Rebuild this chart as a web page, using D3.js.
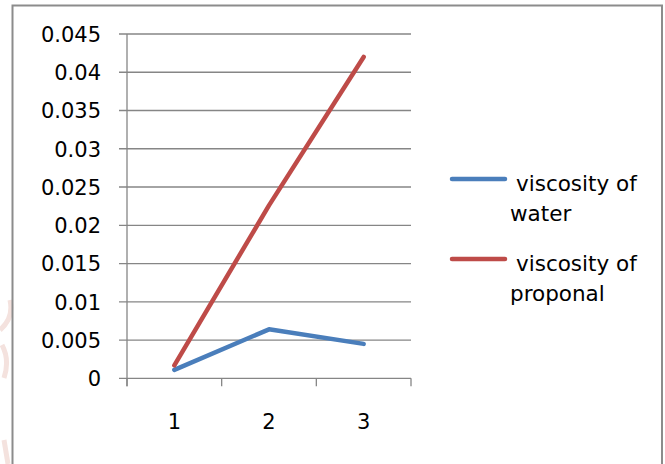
<!DOCTYPE html>
<html>
<head>
<meta charset="utf-8">
<script src="https://cdn.jsdelivr.net/npm/d3@7/dist/d3.min.js"></script>
<style>
  html, body { margin: 0; padding: 0; background: #fff; }
  svg { display: block; }
  text { font-family: "DejaVu Sans", sans-serif; fill: #000; }
</style>
</head>
<body>
<svg id="chart" width="665" height="464"></svg>
<script>
const categories = ["1", "2", "3"];
const waterValues = [0.0011, 0.0064, 0.0045];
const proponalValues = [0.0017, 0.0226, 0.042];
const yTickValues = [0, 0.005, 0.01, 0.015, 0.02, 0.025, 0.03, 0.035, 0.04, 0.045];
const yTickLabels = ["0", "0.005", "0.01", "0.015", "0.02", "0.025", "0.03", "0.035", "0.04", "0.045"];
const seriesNames = [["viscosity of", "water"], ["viscosity of", "proponal"]];
const seriesColors = ["#4a7ebb", "#be4b48"];

(function () {
const svg = d3.select("#chart");
const gridColor = "#868686";

// faint watermark traces at left edge
svg.append("path").attr("d", "M0,330 Q14,318 10,300 M2,345 Q10,360 4,378")
  .attr("fill", "none").attr("stroke", "#f4e2de").attr("stroke-width", 5);
svg.append("path").attr("d", "M4,440 L8,464")
  .attr("fill", "none").attr("stroke", "#f4e2de").attr("stroke-width", 5);

// chart border
svg.append("rect")
  .attr("x", 12.5).attr("y", 5.5).attr("width", 649.5).attr("height", 470)
  .attr("fill", "none").attr("stroke", "#8c8c8c").attr("stroke-width", 2);

const plotLeft = 127, plotRight = 411, plotTop = 34, plotBottom = 378.3;
const y = d3.scaleLinear().domain([0, 0.045]).range([plotBottom, plotTop]);
const x = d3.scalePoint().domain(categories).range([plotLeft, plotRight]).padding(0.5);
const step = x.step();

// gridlines + y ticks
svg.append("g").selectAll("line").data(yTickValues).join("line")
  .attr("x1", plotLeft - 8).attr("x2", plotRight)
  .attr("y1", d => y(d)).attr("y2", d => y(d))
  .attr("stroke", gridColor).attr("stroke-width", 1.3);

// y axis line
svg.append("line").attr("x1", plotLeft).attr("x2", plotLeft)
  .attr("y1", plotTop).attr("y2", plotBottom + 8)
  .attr("stroke", gridColor).attr("stroke-width", 1.3);

// x tick marks (category boundaries)
const xBoundaries = d3.range(categories.length + 1).map(i => plotLeft + i * step);
svg.append("g").selectAll("line").data(xBoundaries).join("line")
  .attr("x1", d => d).attr("x2", d => d)
  .attr("y1", plotBottom).attr("y2", plotBottom + 8)
  .attr("stroke", gridColor).attr("stroke-width", 1.3);

// y labels
svg.append("g").selectAll("text").data(yTickValues).join("text")
  .attr("x", 101).attr("y", d => y(d) + 7.8)
  .attr("text-anchor", "end").attr("font-size", 21)
  .text((d, i) => yTickLabels[i]);

// x labels
svg.append("g").selectAll("text").data(categories).join("text")
  .attr("x", d => x(d)).attr("y", 428.5)
  .attr("text-anchor", "middle").attr("font-size", 21)
  .text(d => d);

// series lines
const line = d3.line().x((d, i) => x(categories[i])).y(d => y(d));
[waterValues, proponalValues].forEach((vals, k) => {
  svg.append("path").datum(vals)
    .attr("d", line)
    .attr("fill", "none")
    .attr("stroke", seriesColors[k])
    .attr("stroke-width", 4.5)
    .attr("stroke-linejoin", "round")
    .attr("stroke-linecap", "round");
});

// legend
const legendY = [179, 259];
seriesNames.forEach((lines, k) => {
  svg.append("line")
    .attr("x1", 452).attr("x2", 505)
    .attr("y1", legendY[k]).attr("y2", legendY[k])
    .attr("stroke", seriesColors[k]).attr("stroke-width", 4.5)
    .attr("stroke-linecap", "round");
  svg.append("text").attr("x", 516).attr("y", legendY[k] + 12)
    .attr("font-size", 21.5).text(lines[0]);
  svg.append("text").attr("x", 510).attr("y", legendY[k] + 42)
    .attr("font-size", 21.5).text(lines[1]);
});
})();
</script>
</body>
</html>
